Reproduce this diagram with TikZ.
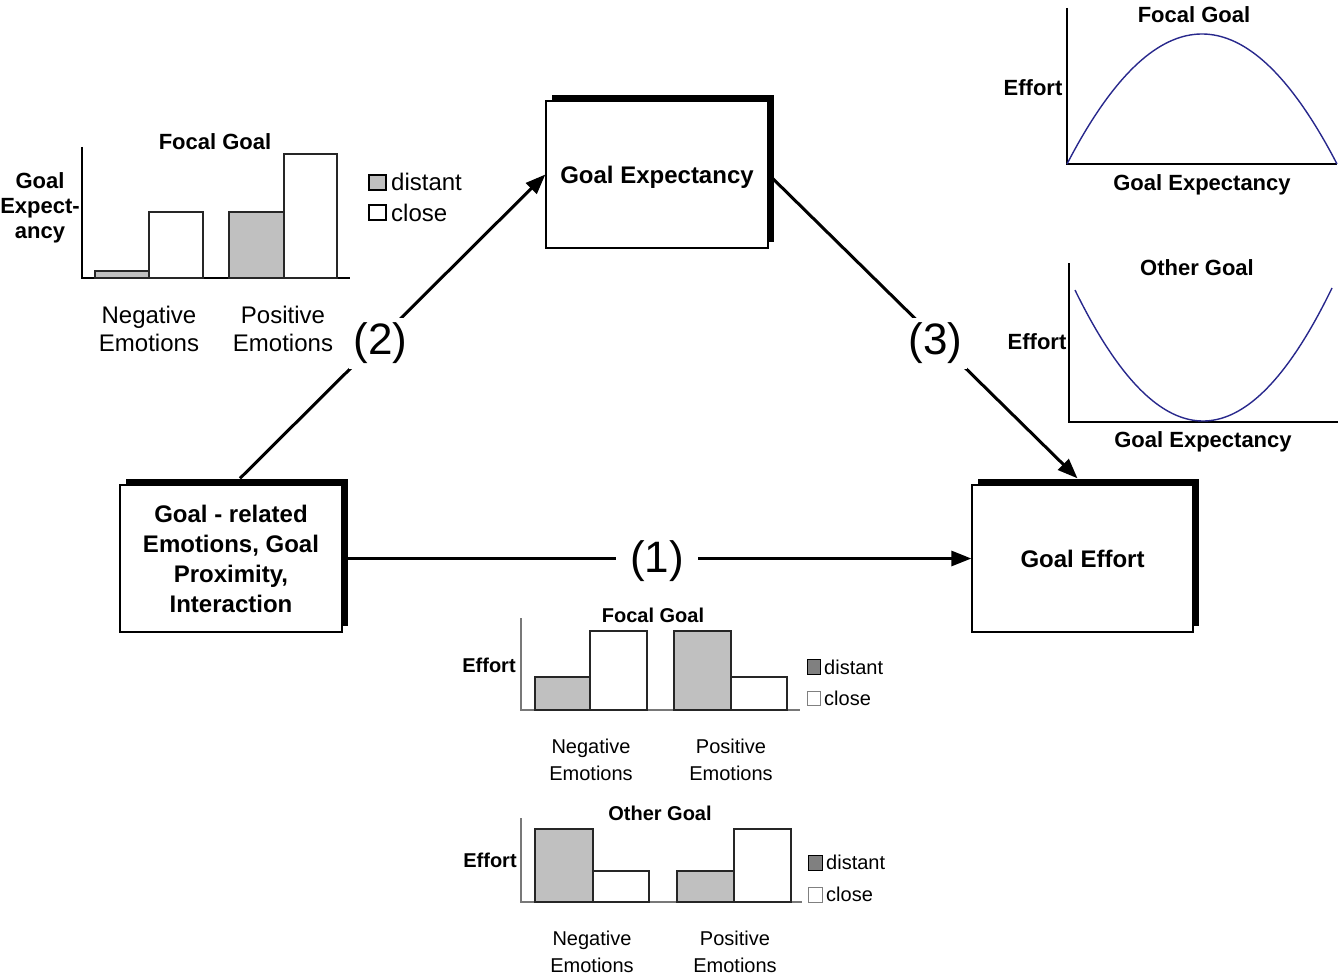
\documentclass[tikz,border=0pt]{standalone}
\usepackage{fontspec}
\setmainfont{Liberation Sans}
\usetikzlibrary{arrows.meta,shadows}
\definecolor{barg}{RGB}{192,192,192}
\definecolor{darkg}{RGB}{128,128,128}
\definecolor{axisg}{RGB}{120,120,120}
\definecolor{curvecol}{RGB}{40,40,140}
\begin{document}
\begin{tikzpicture}[x=1pt,y=-1pt,
  mainbox/.style={draw, line width=1.3pt, fill=white,
    general shadow={fill=black, shadow xshift=6pt, shadow yshift=6pt},
    align=center, font=\fontsize{24}{30}\selectfont\bfseries, inner sep=0pt,
    minimum height=147pt},
  conn/.style={line width=3pt, -{Triangle[length=20pt,width=15pt]}},
  plab/.style={fill=white, font=\fontsize{44}{44}\selectfont, inner sep=5pt},
  bar/.style={draw=black!85, line width=1.3pt},
  axis/.style={line width=1.5pt},
  gaxis/.style={line width=1.3pt, draw=axisg},
  ttl/.style={font=\fontsize{22}{25}\selectfont\bfseries, inner sep=0pt},
  sttl/.style={font=\fontsize{20}{24}\selectfont\bfseries, inner sep=0pt},
  cat/.style={font=\fontsize{24}{28}\selectfont, align=center, inner sep=0pt},
  scat/.style={font=\fontsize{20}{27}\selectfont, align=center, inner sep=0pt},
  leg/.style={font=\fontsize{24}{28}\selectfont, anchor=west, inner sep=0pt},
  sleg/.style={font=\fontsize{20}{24}\selectfont, anchor=west, inner sep=0pt},
  curve/.style={draw=curvecol, line width=1.4pt}
]
\useasboundingbox (0,0) rectangle (1341,979);

% main boxes
\node[mainbox, minimum width=222pt] (gr) at (231,558.5)
  {Goal - related\\Emotions, Goal\\Proximity,\\Interaction};
\node[mainbox, minimum width=222pt, text height=17pt, text depth=0pt] (ge) at (657,174.5) {Goal Expectancy};
\node[mainbox, minimum width=221pt, text height=17pt, text depth=0pt] (eff) at (1082.5,558.5) {Goal Effort};

% connectors
\draw[conn] (gr.east) -- node[plab, inner xsep=14pt, yshift=-3pt] (l1) {(1)} (eff.west);
\draw[conn] ([xshift=9pt,yshift=6pt]gr.north) -- node[plab, pos=0.46, yshift=-5pt] (l2) {(2)} (ge.west);
\draw[conn] (ge.east) -- node[plab, pos=0.54, yshift=-5pt] (l3) {(3)} ([xshift=-5pt,yshift=6pt]eff.north);

% ---------- top-left chart
\draw[axis] (82,147) -- (82,278) -- (350,278);
\draw[bar, fill=barg] (95,271) rectangle (149,278);
\draw[bar, fill=white] (149,212) rectangle (203,278);
\draw[bar, fill=barg] (229,212) rectangle (284,278);
\draw[bar, fill=white] (284,154) rectangle (337,278);
\node[ttl] (t1) at (215,142) {Focal Goal};
\node[ttl, align=center] (y1) at (40,208) {Goal\\Expect-\\ancy};
\draw[line width=1.2pt, fill=barg] (369,175) rectangle (386,190);
\node[leg] (d1) at (391,182) {distant};
\draw[line width=1.2pt, fill=white] (369,205) rectangle (386,220);
\node[leg] (c1) at (391,213) {close};
\node[cat] (n1) at (149,329) {Negative\\Emotions};
\node[cat] (p1) at (283,329) {Positive\\Emotions};

% ---------- bottom focal chart
\draw[gaxis] (521,618) -- (521,710) -- (800,710);
\draw[bar, fill=barg] (535,677) rectangle (590,710);
\draw[bar, fill=white] (590,631) rectangle (647,710);
\draw[bar, fill=barg] (674,631) rectangle (731,710);
\draw[bar, fill=white] (731,677) rectangle (787,710);
\node[sttl] (t2) at (653,615) {Focal Goal};
\node[sttl] (y2) at (489,665) {Effort};
\draw[line width=1pt, fill=darkg] (807,659) rectangle (820,674);
\node[sleg] (d2) at (824,667) {distant};
\draw[line width=1pt, draw=darkg, fill=white] (807,691) rectangle (820,705);
\node[sleg] (c2) at (824,698) {close};
\node[scat] (n2) at (591,760) {Negative\\Emotions};
\node[scat] (p2) at (731,760) {Positive\\Emotions};

% ---------- bottom other chart
\draw[gaxis] (521,818) -- (521,902) -- (802,902);
\draw[bar, fill=barg] (535,829) rectangle (593,902);
\draw[bar, fill=white] (593,871) rectangle (649,902);
\draw[bar, fill=barg] (677,871) rectangle (734,902);
\draw[bar, fill=white] (734,829) rectangle (791,902);
\node[sttl] (t3) at (660,813) {Other Goal};
\node[sttl] (y3) at (490,860) {Effort};
\draw[line width=1pt, fill=darkg] (808,855) rectangle (822,870);
\node[sleg] (d3) at (826,862) {distant};
\draw[line width=1pt, draw=darkg, fill=white] (808,887) rectangle (822,902);
\node[sleg] (c3) at (826,894) {close};
\node[scat] (n3) at (592,952) {Negative\\Emotions};
\node[scat] (p3) at (735,952) {Positive\\Emotions};

% ---------- top-right focal curve
\draw[axis] (1067,8) -- (1067,164) -- (1337,164);
\draw[curve] plot[domain=1067:1337, samples=80, smooth] (\x, {164 - 130*(1-((\x-1202)/135)^2)});
\node[ttl] (t4) at (1194,15) {Focal Goal};
\node[ttl] (y4) at (1033,88) {Effort};
\node[ttl] (x4) at (1202,185) {Goal Expectancy};

% ---------- top-right other curve
\draw[axis] (1069,263) -- (1069,422) -- (1338,422);
\draw[curve] plot[domain=1075:1332, samples=80, smooth] (\x, {421 - 133*((\x-1203)/129)^2});
\node[ttl] (t5) at (1197,268) {Other Goal};
\node[ttl] (y5) at (1037,342) {Effort};
\node[ttl] (x5) at (1203,442) {Goal Expectancy};
\end{tikzpicture}
\end{document}
